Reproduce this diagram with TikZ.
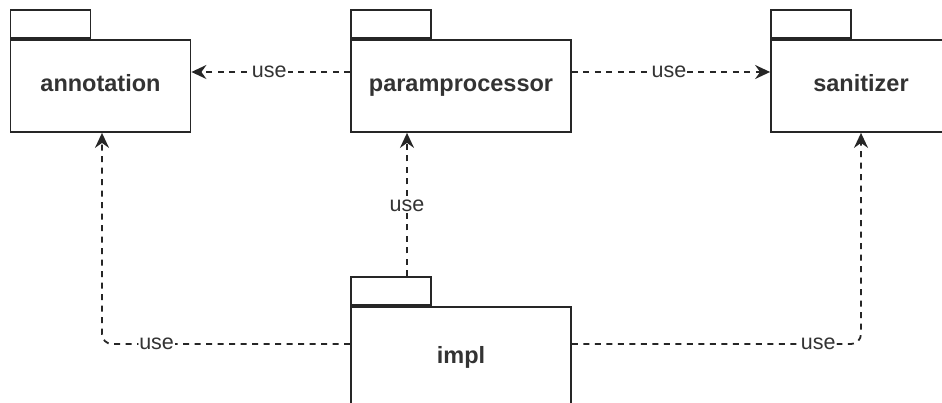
\documentclass[tikz,border=0pt]{standalone}
\usepackage{fontspec}
\setmainfont{Liberation Sans}
\usetikzlibrary{arrows.meta}

\tikzset{
  pkgbody/.style={draw=black!85, line width=1.8pt, fill=white,
    minimum height=92pt, inner sep=0pt},
  pkgtab/.style={draw=black!85, line width=1.8pt, fill=white,
    minimum width=80pt, minimum height=28pt, inner sep=0pt, anchor=south west},
  pkgname/.style={anchor=base, inner sep=0pt,
    font=\fontsize{23.5}{27}\selectfont\bfseries, text=black!80},
  usedep/.style={draw=black!85, line width=1.8pt, dash pattern=on 6pt off 5.5pt,
    -{Stealth[length=15pt,width=14pt,inset=5pt]}},
  uselabel/.style={fill=white, inner sep=1pt,
    font=\fontsize{21.5}{24}\selectfont, text=black!80},
}

\begin{document}
\begin{tikzpicture}[x=1pt, y=-1pt]
  \useasboundingbox (0,0) rectangle (942,403);
  \clip (0,0) rectangle (942,403);
  \fill[white] (0,0) rectangle (942,403);

  % packages: a body with a tab on its top left corner, and the package name
  \node[pkgbody, minimum width=180pt] (ann) at (100.5,86) {};
  \node[pkgtab] (anntab) at (ann.north west) {};
  \node[pkgname] (annname) at ([yshift=-5.7pt]ann.center) {annotation};

  \node[pkgbody, minimum width=220pt] (para) at (461,86) {};
  \node[pkgtab] (paratab) at (para.north west) {};
  \node[pkgname] (paraname) at ([yshift=-5.7pt]para.center) {paramprocessor};

  \node[pkgbody, minimum width=180pt] (san) at (861,86) {};
  \node[pkgtab] (santab) at (san.north west) {};
  \node[pkgname] (sanname) at ([yshift=-5.7pt]san.center) {sanitizer};

  \node[pkgbody, minimum width=220pt, minimum height=102pt] (impl) at (461,358) {};
  \node[pkgtab] (impltab) at (impl.north west) {};
  \node[pkgname] (implname) at ([yshift=-5.7pt]impl.center) {impl};

  % dependencies of paramprocessor
  \draw[usedep] ([yshift=14pt]para.west) -- node[uselabel, pos=0.51] {use} ([yshift=14pt]ann.east);
  \draw[usedep] ([yshift=14pt]para.east) -- node[uselabel, pos=0.49] {use} ([yshift=14pt]san.west);

  % dependencies of impl
  \draw[usedep] ([xshift=16pt]impltab.north) -- node[uselabel, pos=0.49] {use}
    ([xshift=16pt]impltab.north |- para.south);
  \draw[usedep, rounded corners=10pt] ([yshift=14pt]impl.west) -| node[uselabel, pos=0.39] {use}
    ([xshift=1.5pt]ann.south);
  \draw[usedep, rounded corners=10pt] ([yshift=14pt]impl.east) -| node[uselabel, pos=0.426] {use}
    (san.south);
\end{tikzpicture}
\end{document}
